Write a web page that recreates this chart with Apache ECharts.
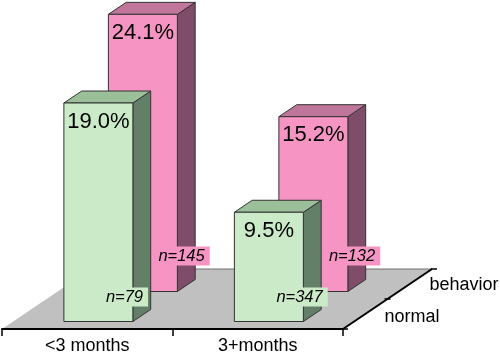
<!DOCTYPE html>
<html>
<head>
<meta charset="utf-8">
<title>chart</title>
<script src="https://cdn.jsdelivr.net/npm/echarts@6/dist/echarts.min.js"></script>
<style>
  html, body { margin: 0; padding: 0; background: #fff; }
  #main { width: 500px; height: 357px; }
</style>
</head>
<body>
<div id="main"></div>
<script>
// values
var categories = ['<3 months', '3+months'];
var depthNames = ['normal', 'behavior'];
var normalPercent = [19.0, 9.5];
var behaviorPercent = [24.1, 15.2];
var normalCounts = [79, 347];
var behaviorCounts = [145, 132];

var font = '"Liberation Sans", Arial, sans-serif';
var depthX = 89, depthY = -60;   // floor depth in pixels
var barWidth = 69;
var barDepth = 0.2;              // share of the floor depth

// a point moved back along the floor
function back(p, d) {
    return [p[0] + depthX * d, p[1] + depthY * d];
}

function poly(points, fill, z) {
    return {
        type: 'polygon',
        z2: z,
        shape: { points: points },
        style: { fill: fill, stroke: '#333', lineWidth: 1 }
    };
}

function line(a, b, width) {
    return {
        type: 'line',
        z2: 5,
        shape: { x1: a[0], y1: a[1], x2: b[0], y2: b[1] },
        style: { stroke: '#000', lineWidth: width }
    };
}

function text(str, x, y, opt) {
    return {
        type: 'text',
        z2: 10,
        style: Object.assign({
            text: str, x: x, y: y, fill: '#000',
            font: '18px ' + font, align: 'center', verticalAlign: 'middle'
        }, opt || {})
    };
}

function barRenderer(depth, colors, countX, countY) {
    return function (params, api) {
        var top = api.coord([api.value(0), api.value(1)]);
        var base = api.coord([api.value(0), 0]);
        top = back(top, depth);
        base = back(base, depth);
        var l = top[0] - barWidth / 2, r = top[0] + barWidth / 2;
        var fl = [l, top[1]], fr = [r, top[1]], br = [r, base[1]], bl = [l, base[1]];
        var kids = [
            poly([fr, back(fr, barDepth), back(br, barDepth), br], colors.side, 1),
            poly([fl, back(fl, barDepth), back(fr, barDepth), fr], colors.top, 1),
            poly([fl, fr, br, bl], colors.front, 2),
            text(api.value(1).toFixed(1) + '%', top[0], top[1] + 18.5, { font: '22px ' + font }),
            text('n=' + api.value(2), l + countX, base[1] + countY, {
                font: 'italic 16.5px ' + font,
                align: 'left',
                backgroundColor: colors.front,
                padding: [1, 5, 1, 3]
            })
        ];
        return { type: 'group', children: kids };
    };
}

var pink = { front: '#f695c3', top: '#c0769b', side: '#7f4d69' };
var green = { front: '#cbebc8', top: '#9bbf99', side: '#647f67' };

function floorRenderer(params, api) {
    var g = params.coordSys;
    var a = [g.x, g.y + g.height], b = [g.x + g.width, g.y + g.height];
    var c = back(b, 1), d = back(a, 1);
    var mid = back(b, 0.5);
    return {
        type: 'group',
        children: [
            { type: 'polygon', shape: { points: [a, b, c, d] }, style: { fill: '#c0c0c0' } },
            { type: 'line', shape: { x1: d[0], y1: d[1], x2: c[0], y2: c[1] }, style: { stroke: '#707070', lineWidth: 1 } },
            line(b, c, 2),
            line([b[0] - 1, b[1]], [b[0] + 5, b[1]], 1.5),
            line([mid[0] - 3, mid[1]], [mid[0] + 3, mid[1]], 1.5),
            line([c[0] - 1, c[1]], [c[0] + 5, c[1]], 1.5),
            text(depthNames[0], b[0] + 69, b[1] - 11.5),
            text(depthNames[1], b[0] + 121, b[1] - 43.5)
        ]
    };
}

var myChart = echarts.init(document.getElementById('main'));
myChart.setOption({
    animation: false,
    grid: { left: 2, top: 7, width: 341, height: 322 },
    xAxis: {
        type: 'category',
        data: categories,
        z: 5,
        axisLine: { lineStyle: { color: '#000', width: 2 } },
        axisTick: { show: true, length: 7, lineStyle: { color: '#000', width: 1.5 } },
        axisLabel: { color: '#000', fontSize: 18, fontFamily: font, margin: 8, interval: 0 }
    },
    yAxis: {
        type: 'value',
        min: 0,
        max: 28,
        show: false
    },
    series: [
        {
            type: 'custom',
            z: 1,
            silent: true,
            renderItem: floorRenderer,
            data: [[0, 0]]
        },
        {
            name: depthNames[1],
            type: 'custom',
            z: 2,
            silent: true,
            renderItem: barRenderer(0.625, pink, 47, -35.5),
            data: categories.map(function (c, i) { return [i, behaviorPercent[i], behaviorCounts[i]]; })
        },
        {
            name: depthNames[0],
            type: 'custom',
            z: 3,
            silent: true,
            renderItem: barRenderer(0.125, green, 39, -24.5),
            data: categories.map(function (c, i) { return [i, normalPercent[i], normalCounts[i]]; })
        }
    ]
});
</script>
</body>
</html>
